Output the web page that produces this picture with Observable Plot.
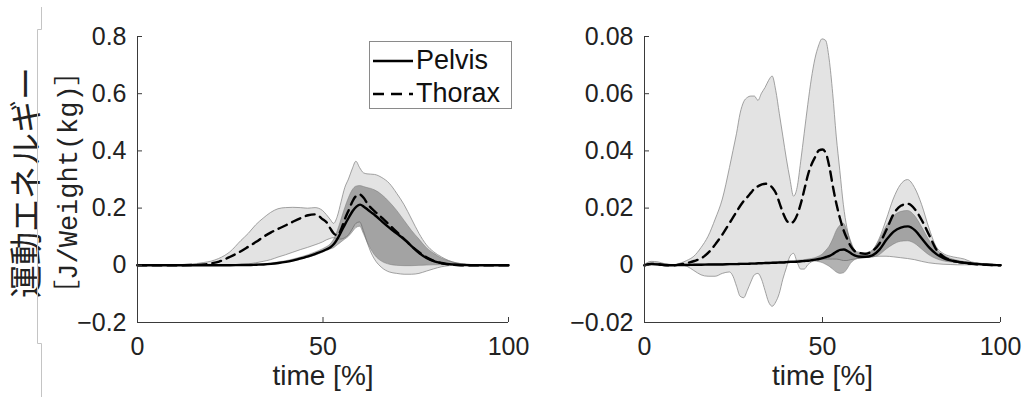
<!DOCTYPE html>
<html><head><meta charset="utf-8">
<script src="https://cdn.jsdelivr.net/npm/d3@7"></script>
<script src="https://cdn.jsdelivr.net/npm/@observablehq/plot@0.6"></script>
<style>
html,body{margin:0;padding:0;background:#fff;}
#wrap{position:relative;width:1032px;height:398px;overflow:hidden;background:#fff;}
#wrap svg{position:absolute;left:0;top:0;}
#legend{position:absolute;left:369px;top:41px;width:141px;height:66px;border:1px solid #8a8a8a;background:#fff;
  font-family:'Liberation Sans',Arial,sans-serif;font-size:27px;color:#111;}
#legend .row{position:absolute;left:0;height:30px;line-height:30px;}
#legend .lbl{position:absolute;left:46px;white-space:nowrap;}
</style></head>
<body><div id="wrap"><div id="legend"></div></div>
<script>
// ---------- Left panel data (time %, energy J/Weight(kg)) ----------
const timeLeft = [0,5,10,15,18,20,22,25,28,30,32,34,36,38,40,42,44,46,48,50,51,52,53,54,55,56,57,58,59,60,61,62,63,64,66,68,70,72,74,76,78,80,82,84,86,88,90,95,100];
const leftThoraxMean = [0,0,0,0.001,0.003,0.007,0.013,0.03,0.05,0.066,0.082,0.1,0.115,0.128,0.14,0.153,0.165,0.175,0.178,0.16,0.15,0.128,0.11,0.105,0.13,0.165,0.195,0.225,0.243,0.247,0.235,0.215,0.2,0.188,0.165,0.14,0.115,0.09,0.066,0.045,0.027,0.015,0.007,0.003,0.001,0,0,0,0];
const leftThoraxLow = [0,0,0,0,0,0,0,0,0.001,0.003,0.007,0.012,0.018,0.027,0.035,0.044,0.053,0.061,0.07,0.08,0.087,0.092,0.095,0.09,0.09,0.095,0.105,0.125,0.145,0.15,0.12,0.08,0.045,0.02,-0.01,-0.025,-0.03,-0.033,-0.033,-0.03,-0.022,-0.014,-0.007,-0.003,-0.001,0,0,0,0];
const leftThoraxHigh = [0,0,0,0.003,0.008,0.013,0.022,0.045,0.085,0.11,0.14,0.163,0.183,0.196,0.2,0.201,0.2,0.198,0.2,0.19,0.176,0.16,0.145,0.17,0.22,0.27,0.3,0.335,0.362,0.34,0.322,0.318,0.317,0.316,0.305,0.285,0.25,0.21,0.16,0.11,0.07,0.045,0.028,0.015,0.007,0.003,0.001,0,0];
const leftPelvisMean = [0,0,0,0,0,0,0,0,0.001,0.001,0.002,0.003,0.005,0.008,0.012,0.017,0.024,0.031,0.04,0.05,0.056,0.063,0.075,0.095,0.12,0.145,0.168,0.19,0.205,0.212,0.205,0.195,0.185,0.175,0.152,0.13,0.11,0.09,0.065,0.042,0.025,0.014,0.008,0.004,0.002,0.001,0,0,0];
const leftPelvisLow = [0,0,0,0,0,0,0,0,0,0.001,0.001,0.002,0.004,0.006,0.009,0.013,0.019,0.026,0.034,0.044,0.05,0.055,0.06,0.07,0.08,0.09,0.1,0.115,0.13,0.135,0.11,0.08,0.055,0.035,0.012,0.002,-0.002,-0.003,-0.003,-0.002,-0.001,0,0,0,0,0,0,0,0];
const leftPelvisHigh = [0,0,0,0,0,0,0,0,0.001,0.002,0.003,0.004,0.006,0.01,0.014,0.02,0.027,0.035,0.045,0.056,0.063,0.072,0.09,0.12,0.16,0.2,0.235,0.262,0.275,0.277,0.274,0.27,0.267,0.262,0.245,0.22,0.19,0.155,0.12,0.09,0.06,0.04,0.024,0.014,0.007,0.003,0.001,0,0];

// ---------- Right panel data ----------
const timeRight = [0,2,4,6,8,10,12,14,16,18,20,22,24,25,26,27,28,29,30,31,32,33,34,35,36,37,38,39,40,41,42,43,44,45,46,47,48,49,50,51,52,53,54,55,56,57,58,59,60,62,64,66,68,70,72,74,76,78,80,82,84,86,88,90,92,94,96,98,100];
const rightThoraxMean = [0,0.0005,0.0003,0,0,0.0003,0.0008,0.0015,0.0025,0.0045,0.0075,0.011,0.015,0.017,0.019,0.021,0.0227,0.024,0.0255,0.027,0.0277,0.0283,0.0285,0.0282,0.027,0.025,0.0215,0.018,0.0155,0.0147,0.0155,0.018,0.022,0.027,0.032,0.0355,0.038,0.0402,0.0405,0.039,0.034,0.027,0.021,0.016,0.012,0.009,0.0065,0.005,0.0045,0.004,0.005,0.0076,0.0125,0.018,0.0208,0.0215,0.0195,0.0155,0.0105,0.0055,0.003,0.0018,0.0012,0.0008,0.0005,0.0003,0.0002,0.0001,0];
const rightThoraxLow = [0,0.0005,0.0005,0,0,0,-0.0005,-0.002,-0.0035,-0.004,-0.004,-0.003,-0.0025,-0.004,-0.0075,-0.011,-0.0115,-0.009,-0.006,-0.0035,-0.003,-0.005,-0.009,-0.013,-0.0145,-0.013,-0.01,-0.005,-0.001,0.003,0.004,0.001,-0.0015,-0.0015,0,0.001,0.0015,0.0018,0.002,0.002,0.002,0.002,0.002,0.0018,0.0015,0.0015,0.0018,0.002,0.0022,0.0025,0.0028,0.003,0.003,0.0028,0.0025,0.0022,0.0018,0.0012,0.0007,0.0004,0.0002,0.0001,0,0,0,0,0,0,0];
const rightThoraxHigh = [0,0.0012,0.001,0.0003,0,0.0005,0.0015,0.003,0.006,0.01,0.016,0.023,0.034,0.04,0.046,0.053,0.057,0.0585,0.059,0.059,0.0575,0.06,0.062,0.0645,0.066,0.061,0.053,0.045,0.037,0.03,0.024,0.027,0.036,0.046,0.056,0.065,0.072,0.0765,0.079,0.0785,0.072,0.06,0.045,0.033,0.021,0.013,0.008,0.0055,0.0045,0.0042,0.005,0.009,0.0157,0.023,0.028,0.0298,0.027,0.021,0.013,0.0065,0.004,0.003,0.0025,0.002,0.001,0.0006,0.0003,0.0001,0];
const rightPelvisMean = [0,0.0004,0.0003,0.0001,0,0.0001,0.0001,0.0002,0.0002,0.0003,0.0003,0.0003,0.0004,0.0004,0.0004,0.0005,0.0005,0.0005,0.0006,0.0006,0.0007,0.0007,0.0008,0.0008,0.0009,0.0009,0.001,0.001,0.0011,0.0012,0.0012,0.0013,0.0014,0.0015,0.0016,0.0018,0.002,0.0022,0.0025,0.0029,0.0033,0.004,0.0048,0.0054,0.0055,0.005,0.0042,0.0035,0.0031,0.003,0.0035,0.0055,0.009,0.0118,0.0132,0.0136,0.0122,0.0092,0.0062,0.0039,0.0025,0.0017,0.0012,0.0009,0.0006,0.0004,0.0002,0.0001,0];
const rightPelvisLow = [0,0.0001,0.0001,0,0,0,0,0.0001,0.0001,0.0002,0.0002,0.0002,0.0003,0.0003,0.0003,0.0004,0.0004,0.0004,0.0005,0.0005,0.0006,0.0006,0.0007,0.0007,0.0008,0.0008,0.0008,0.0009,0.0009,0.001,0.001,0.001,0.0011,0.0012,0.0012,0.0013,0.0013,0.0011,0.0008,0.0002,-0.0005,-0.0015,-0.0025,-0.003,-0.0028,-0.0015,0.0005,0.0017,0.0022,0.0025,0.0027,0.0035,0.0055,0.0072,0.0082,0.0084,0.0075,0.0055,0.0035,0.0022,0.0014,0.001,0.0008,0.0006,0.0004,0.0003,0.0002,0.0001,0];
const rightPelvisHigh = [0,0.0007,0.0005,0.0002,0.0001,0.0001,0.0002,0.0002,0.0003,0.0003,0.0004,0.0004,0.0005,0.0005,0.0005,0.0006,0.0006,0.0006,0.0007,0.0007,0.0008,0.0008,0.0009,0.0009,0.001,0.0011,0.0012,0.0012,0.0013,0.0014,0.0015,0.0016,0.0017,0.0018,0.002,0.0022,0.0025,0.003,0.0037,0.005,0.0065,0.009,0.012,0.0138,0.0145,0.012,0.0085,0.0055,0.0042,0.0036,0.0048,0.0085,0.0135,0.017,0.0186,0.019,0.0172,0.0132,0.0088,0.0055,0.0035,0.0023,0.0016,0.0011,0.0008,0.0005,0.0003,0.0001,0];

// ---------- Axes / labels ----------
const xTicks = [0, 50, 100];
const leftYTicks = [-0.2, 0, 0.2, 0.4, 0.6, 0.8];
const rightYTicks = [-0.02, 0, 0.02, 0.04, 0.06, 0.08];
const xLabel = "time [%]";
const yLabelLine1 = "運動エネルギー";
const yLabelLine2 = "［J/Weight(kg)］";
const seriesNames = ["Pelvis", "Thorax"];

const W = 1032, H = 398, MT = 36, MB = 76;
const fmt = d => d === 0 ? "0" : (d < 0 ? "\u2212" : "") + String(Math.abs(d));

function panel(t, tm, tl, th, pm, pl, ph, yDomain, yTicks, marginLeft, marginRight, extra) {
  const rows = t.map((d, i) => ({t: d, tm: tm[i], tl: tl[i], th: th[i], pm: pm[i], pl: pl[i], ph: ph[i]}));
  const xPerPx = 100 / (W - marginLeft - marginRight);
  const yPerPx = (yDomain[1] - yDomain[0]) / (H - MT - MB);
  const tl_ = 5;
  const axisColor = "#3a3a3a";
  return Plot.plot({
    width: W, height: H, marginLeft, marginRight, marginTop: MT, marginBottom: MB,
    x: {domain: [0, 100], ticks: xTicks, tickSize: 0, tickPadding: 15, label: null},
    y: {domain: yDomain, ticks: yTicks, tickSize: 0, tickPadding: 11, label: null, tickFormat: fmt},
    style: {fontFamily: "'Liberation Sans', Arial, sans-serif", fontSize: "25px", color: "#222", background: "transparent", overflow: "visible"},
    marks: [
      Plot.areaY(rows, {x: "t", y1: "tl", y2: "th", fill: "#e3e3e3", stroke: "#8c8c8c", strokeWidth: 0.8, curve: "monotone-x"}),
      Plot.areaY(rows, {x: "t", y1: "pl", y2: "ph", fill: "#555", fillOpacity: 0.45, stroke: "#777", strokeWidth: 0.7, strokeOpacity: 0.7, curve: "monotone-x"}),
      Plot.lineY(rows, {x: "t", y: "tm", stroke: "#000", strokeWidth: 2.4, strokeDasharray: "9,6", curve: "monotone-x"}),
      Plot.lineY(rows, {x: "t", y: "pm", stroke: "#000", strokeWidth: 2.4, curve: "monotone-x"}),
      Plot.ruleX(xTicks, {x: d => d, y1: yDomain[0], y2: yDomain[0] + tl_ * yPerPx, stroke: axisColor}),
      Plot.ruleY(yTicks, {y: d => d, x1: 0, x2: tl_ * xPerPx, stroke: axisColor}),
      Plot.ruleX([0], {x: d => d, y1: yDomain[0], y2: yDomain[1], stroke: axisColor}),
      Plot.ruleY([yDomain[0]], {y: d => d, x1: 0, x2: 100, stroke: axisColor}),
      Plot.text([xLabel], {text: d => d, frameAnchor: "bottom", dy: 62, fontSize: 28, fill: "#222"}),
      ...extra
    ]
  });
}

const left = panel(timeLeft, leftThoraxMean, leftThoraxLow, leftThoraxHigh, leftPelvisMean, leftPelvisLow, leftPelvisHigh,
  [-0.2, 0.8], leftYTicks, 137, 524, [
    Plot.text([yLabelLine1], {text: d => d, frameAnchor: "left", textAnchor: "middle", dx: -110, dy: 3, rotate: -90, fontSize: 33, fill: "#222", fontFamily: "'Noto Sans CJK JP', sans-serif"}),
    Plot.text([yLabelLine2], {text: d => d, frameAnchor: "left", textAnchor: "middle", dx: -69, dy: 3, rotate: -90, fontSize: 27, fill: "#222", fontFamily: "'Liberation Mono', 'Noto Sans CJK JP', monospace"})
  ]);
const right = panel(timeRight, rightThoraxMean, rightThoraxLow, rightThoraxHigh, rightPelvisMean, rightPelvisLow, rightPelvisHigh,
  [-0.02, 0.08], rightYTicks, 644, 32, []);

const wrap = document.getElementById("wrap");
wrap.insertBefore(left, wrap.firstChild);
wrap.insertBefore(right, document.getElementById("legend"));

// thin grey frame remnant at the far left
const deco = d3.select(wrap).append("svg").attr("width", W).attr("height", H).style("pointer-events", "none");
deco.append("path").attr("d", "M41.5,7V29.5H37.5V343.5H41.5V397").attr("fill", "none").attr("stroke", "#c4c4c4").attr("stroke-width", 1);

// legend
const legend = d3.select("#legend");
seriesNames.forEach((name, i) => {
  const row = legend.append("div").attr("class", "row").style("top", (3 + i * 33) + "px").style("width", "141px");
  const s = row.append("svg").attr("width", 44).attr("height", 30).style("position", "absolute").style("left", "0px").style("top", "0px");
  s.append("line").attr("x1", 3).attr("x2", 43).attr("y1", 16).attr("y2", 16)
    .attr("stroke", "#000").attr("stroke-width", 2.4).attr("stroke-dasharray", i === 0 ? null : "11,7");
  row.append("span").attr("class", "lbl").text(name);
});
</script>
</body></html>
